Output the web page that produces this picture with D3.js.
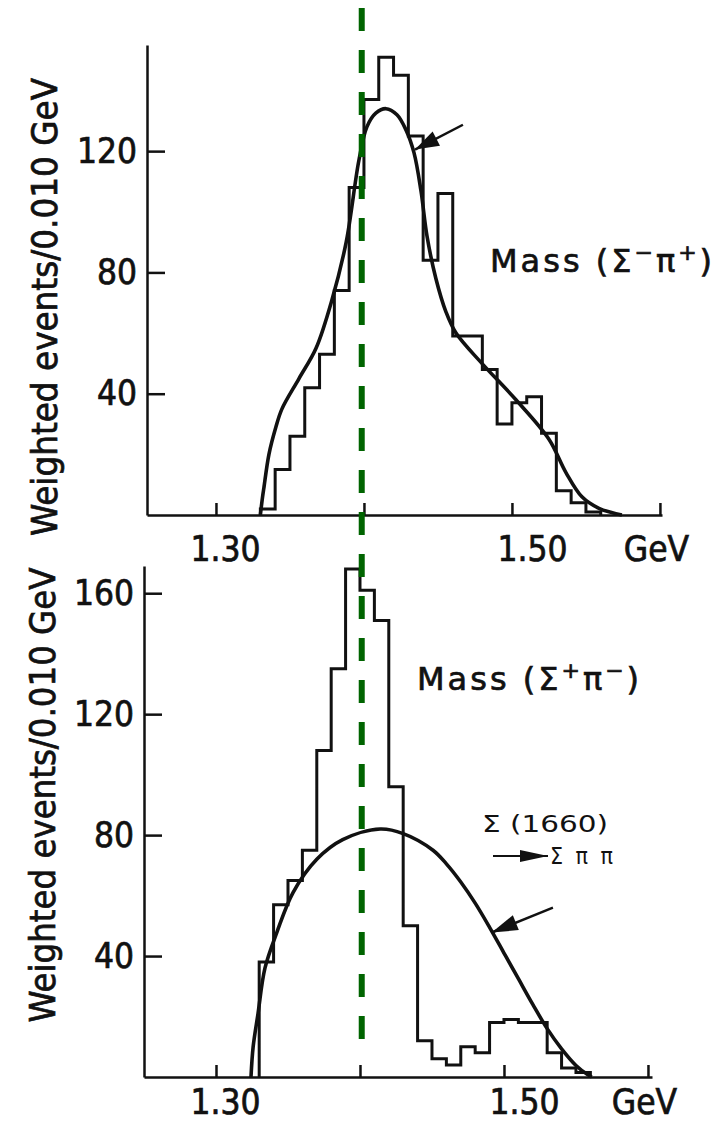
<!DOCTYPE html>
<html>
<head>
<meta charset="utf-8">
<script src="https://cdn.jsdelivr.net/npm/d3@7"></script>
<style>
  html, body { margin: 0; padding: 0; background: #fff; }
  svg { display: block; }
  text { font-family: "DejaVu Sans Condensed", "DejaVu Sans", sans-serif; font-stretch: condensed; fill: #111; }
  text.heavy { stroke: #111; stroke-width: 0.7px; }
  text.mass { font-family: "DejaVu Sans", sans-serif; font-stretch: normal; letter-spacing: 3px; }
</style>
</head>
<body>
<svg id="chart" width="716" height="1122"></svg>
<script>
// ---- data -------------------------------------------------------------
const binWidth = 0.010;                 // GeV per bin
const firstBin = 1.33;                  // left edge of the first bin (GeV)

// Mass(Σ⁻π⁺): weighted events per bin, bins starting at 1.33 GeV
const sigmaMinusPiPlus = [2, 15, 26, 42, 53, 74, 108, 137, 151, 145, 125, 84, 106,
                          59, 59, 48, 30, 37, 39, 27, 8, 4, 1];
// smooth fit drawn over it: [mass GeV, events]
const sigmaMinusFit = [[1.3300, 0], [1.3315, 6], [1.3324, 9], [1.3358, 20], [1.3405, 29],
  [1.3446, 35], [1.3561, 45], [1.3676, 55], [1.3784, 71], [1.3880, 90], [1.3966, 117],
  [1.4020, 128], [1.4080, 132.5], [1.4149, 134], [1.4223, 132], [1.4284, 127],
  [1.4338, 119.5], [1.4385, 107], [1.4426, 92], [1.4486, 78], [1.4554, 67], [1.4622, 60],
  [1.4797, 50], [1.5027, 38], [1.5250, 25], [1.5365, 14], [1.5473, 6], [1.5588, 2.2],
  [1.5743, 0]];

// Mass(Σ⁺π⁻): weighted events per bin, bins starting at 1.33 GeV
const sigmaPlusPiMinus = [38, 57, 65, 75, 108, 135, 168, 161, 151, 96, 50, 12, 6,
                          4, 10, 8, 18, 19, 18, 18, 8, 3, 1.5];
// Σ(1660) → Σππ phase-space curve: [mass GeV, events]
const sigma1660Curve = [[1.3243, 0], [1.3258, 10], [1.3292, 21], [1.3340, 36], [1.3424, 48],
  [1.3535, 61], [1.3700, 72], [1.3880, 78.5], [1.4140, 82], [1.4300, 80.5], [1.4507, 75],
  [1.4600, 70.5], [1.4700, 64.5], [1.4800, 57.5], [1.4900, 49.5], [1.5000, 41],
  [1.5100, 32.5], [1.5200, 24], [1.5300, 16], [1.5400, 9.3], [1.5500, 3.8],
  [1.5580, 0.8], [1.5610, 0]];

const massTicks = [1.30, 1.40, 1.50, 1.60];
const massTickLabels = ["1.30", "", "1.50", "GeV"];
const topEventTicks = [40, 80, 120];
const bottomEventTicks = [40, 80, 120, 160];
const yTitle = "Weighted events/0.010 GeV";
const referenceMass = 1.3985;           // dashed marker line

// ---- drawing ----------------------------------------------------------
const svg = d3.select("#chart");
const ink = "#111";

function arrow(g, x1, y1, x2, y2, headLen, headHalf, width) {
  g.append("line").attr("x1", x1).attr("y1", y1).attr("x2", x2).attr("y2", y2)
    .attr("stroke", ink).attr("stroke-width", width);
  const a = Math.atan2(y2 - y1, x2 - x1);
  const bx = x2 - headLen * Math.cos(a), by = y2 - headLen * Math.sin(a);
  const nx = -Math.sin(a) * headHalf, ny = Math.cos(a) * headHalf;
  g.append("path")
    .attr("d", `M${x2},${y2}L${bx + nx},${by + ny}L${bx - nx},${by - ny}Z`)
    .attr("fill", ink);
}

function histogramPoints(counts) {
  const pts = [[firstBin, 0]];
  counts.forEach((v, i) => {
    const left = firstBin + i * binWidth;
    pts.push([left, v], [left + binWidth, v]);
  });
  pts.push([firstBin + counts.length * binWidth, 0]);
  return pts;
}

function panel(cfg) {
  const x = d3.scaleLinear().domain(cfg.xDomain).range(cfg.xRange);
  const y = d3.scaleLinear().domain(cfg.yDomain).range(cfg.yRange);
  const g = svg.append("g");

  // mass axis, ticks pointing up into the plot
  const gx = g.append("g").attr("transform", `translate(0,${cfg.yRange[0]})`)
    .call(d3.axisBottom(x).tickValues(massTicks).tickSizeInner(-12).tickSizeOuter(0)
      .tickPadding(cfg.xLabelPad).tickFormat((d, i) => massTickLabels[i]));
  gx.select(".domain").attr("stroke", ink).attr("stroke-width", 2.5);
  gx.selectAll(".tick line").attr("stroke", ink).attr("stroke-width", 2.5);
  gx.selectAll(".tick text").attr("class", "heavy").attr("font-size", 35).attr("fill", ink)
    .attr("dx", (d, i) => [9, 0, 20, -4][i]);

  // events axis, ticks pointing right into the plot
  const gy = g.append("g").attr("transform", `translate(${cfg.xRange[0]},0)`)
    .call(d3.axisLeft(y).tickValues(cfg.yTicks).tickSizeInner(-18).tickSizeOuter(0)
      .tickPadding(10));
  gy.select(".domain").attr("stroke", ink).attr("stroke-width", 2.5);
  gy.selectAll(".tick line").attr("stroke", ink).attr("stroke-width", 2.5);
  gy.selectAll(".tick text").attr("class", "heavy").attr("font-size", 35).attr("fill", ink);

  // axis title
  g.append("text").attr("class", "heavy")
    .attr("transform", `translate(${cfg.titleX},${cfg.titleY}) rotate(-90)`)
    .attr("text-anchor", "middle").attr("font-size", 36)
    .attr("textLength", cfg.titleLen).attr("lengthAdjust", "spacingAndGlyphs")
    .text(yTitle);

  const line = d3.line().x(d => x(d[0])).y(d => y(d[1]));

  // histogram
  g.append("path").datum(histogramPoints(cfg.counts))
    .attr("d", line).attr("fill", "none").attr("stroke", ink)
    .attr("stroke-width", 3).attr("stroke-linejoin", "miter");

  // fitted curve
  g.append("path").datum(cfg.curve)
    .attr("d", line.curve(d3.curveCatmullRom.alpha(0.5)))
    .attr("fill", "none").attr("stroke", ink).attr("stroke-width", 3.6);

  return { x, y, g };
}

function massLabel(g, x, y, first, second) {
  const t = g.append("text").attr("class", "mass heavy").attr("x", x).attr("y", y)
    .attr("font-size", 32);
  t.append("tspan").text("Mass (Σ");
  t.append("tspan").attr("dy", -12).attr("font-size", 22).text(first);
  t.append("tspan").attr("dy", 12).text("π");
  t.append("tspan").attr("dy", -12).attr("font-size", 22).text(second);
  t.append("tspan").attr("dy", 12).text(")");
}

// upper panel: Σ⁻π⁺
const upper = panel({
  xDomain: [1.2534, 1.6014], xRange: [147, 662],
  yDomain: [0, 155], yRange: [515, 45],
  yTicks: topEventTicks, xLabelPad: 21,
  titleX: 57, titleY: 307, titleLen: 458,
  counts: sigmaMinusPiPlus, curve: sigmaMinusFit
});
arrow(upper.g, upper.x(1.4669), upper.y(128.7), upper.x(1.4345), upper.y(120.5), 24, 8, 2.5);
massLabel(upper.g, 490, 272, "−", "+");

// lower panel: Σ⁺π⁻
const lower = panel({
  xDomain: [1.25, 1.6028], xRange: [144, 652],
  yDomain: [0, 169], yRange: [1077, 566],
  yTicks: bottomEventTicks, xLabelPad: 12,
  titleX: 55, titleY: 795, titleLen: 455,
  counts: sigmaPlusPiMinus, curve: sigma1660Curve
});
arrow(lower.g, lower.x(1.534), lower.y(56), lower.x(1.4915), lower.y(47.8), 26, 8, 2.5);
massLabel(lower.g, 417, 690, "+", "−");

lower.g.append("text").attr("x", 482).attr("y", 832).attr("font-size", 23)
  .attr("textLength", 126).attr("lengthAdjust", "spacingAndGlyphs").text("Σ (1660)");
arrow(lower.g, 493, 856, 548, 856, 28, 6, 2);
lower.g.append("text").attr("x", 550).attr("y", 864).attr("font-size", 23)
  .attr("textLength", 63).attr("lengthAdjust", "spacing").text("Σ π π");

// dashed marker across both panels
svg.append("line")
  .attr("x1", upper.x(referenceMass)).attr("x2", upper.x(referenceMass))
  .attr("y1", 8).attr("y2", 1040)
  .attr("stroke", "#006400").attr("stroke-width", 6)
  .attr("stroke-dasharray", "23 19");
</script>
</body>
</html>
